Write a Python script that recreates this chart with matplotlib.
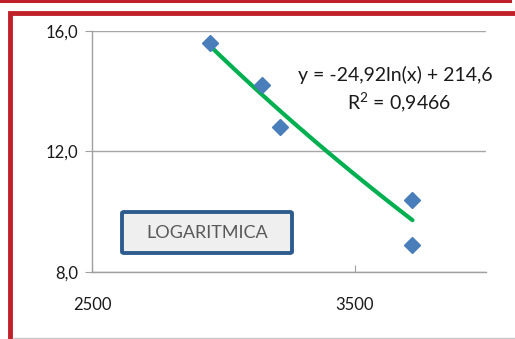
import numpy as np
import matplotlib
matplotlib.use("Agg")
import matplotlib.pyplot as plt
from matplotlib.patches import FancyBboxPatch
from matplotlib.lines import Line2D

# ---- data ----
x_vals = [2949, 3146, 3215, 3720, 3720]
y_vals = [15.6, 14.2, 12.8, 10.4, 8.9]
coef_a = -24.92
coef_b = 214.6
r2_text = "R$^2$ = 0,9466"
eq_text = "y = -24,92ln(x) + 214,6"
x_ticks = [2500, 3500]
x_tick_labels = ["2500", "3500"]
y_ticks = [8.0, 12.0, 16.0]
y_tick_labels = ["8,0", "12,0", "16,0"]
box_label = "LOGARITMICA"

plt.rcParams['font.family'] = ['Lato', 'DejaVu Sans']
plt.rcParams['mathtext.fontset'] = 'custom'
plt.rcParams['mathtext.rm'] = 'Lato'

fig = plt.figure(figsize=(5.15, 3.39), dpi=100)
fig.patch.set_facecolor('white')

# outer red frames
fig.add_artist(Line2D([0, 0.99], [0.996, 0.996], transform=fig.transFigure, color='#C0202A', lw=2.2))
fig.add_artist(Line2D([0.0195, 0.0195, 1.0], [0.0, 0.963, 0.963], transform=fig.transFigure,
                      color='#C0202A', lw=3.5, solid_joinstyle='miter'))
fig.add_artist(Line2D([0.025, 1.0], [0.004, 0.004], transform=fig.transFigure, color='#C8C8C8', lw=1))

ax = fig.add_axes([0.1786, 0.1976, 0.9437 - 0.1786, 0.9086 - 0.1976])
ax.set_xlim(2500, 4000)
ax.set_ylim(8, 16)

for s in ['top', 'right']:
    ax.spines[s].set_visible(False)
for s in ['left', 'bottom']:
    ax.spines[s].set_color('#A0A0A0')
    ax.spines[s].set_linewidth(1.0)

ax.set_yticks(y_ticks)
ax.set_yticklabels(y_tick_labels)
ax.set_xticks(x_ticks)
ax.set_xticklabels(x_tick_labels)
ax.tick_params(axis='y', direction='out', length=5, color='#A0A0A0', labelsize=12, pad=5, labelcolor='#1a1a1a')
ax.tick_params(axis='x', direction='in', length=5, color='#A0A0A0', labelsize=12, pad=18, labelcolor='#1a1a1a')
ax.yaxis.grid(True, color='#A6A6A6', lw=1.0)
ax.set_axisbelow(True)

# trend line
xt = np.linspace(min(x_vals), max(x_vals), 100)
yt = coef_a * np.log(xt) + coef_b
ax.plot(xt, yt, color='#00B050', lw=3.0, solid_capstyle='round', zorder=3)

ax.plot(x_vals, y_vals, linestyle='none', marker='D', markersize=8.5,
        color='#4A7EBB', markeredgecolor='#4A7EBB', zorder=4)

ax.text(3285, 14.55, eq_text, fontsize=14, color='#1a1a1a', ha='left', va='center')
ax.text(3671, 13.62, r2_text, fontsize=14, color='#1a1a1a', ha='center', va='center')

# label box
bx0, bx1 = 122 / 515, 292 / 515
by0, by1 = 1 - 253 / 339, 1 - 212 / 339
box = FancyBboxPatch((bx0, by0), bx1 - bx0, by1 - by0, transform=fig.transFigure,
                     boxstyle='round,pad=0,rounding_size=0.004',
                     facecolor='#EFEFEF', edgecolor='#2E5C8E', lw=2.8)
fig.add_artist(box)
fig.text((bx0 + bx1) / 2, (by0 + by1) / 2, box_label, fontsize=13, color='#595959',
         ha='center', va='center')

fig.savefig('out.png', dpi=100)
